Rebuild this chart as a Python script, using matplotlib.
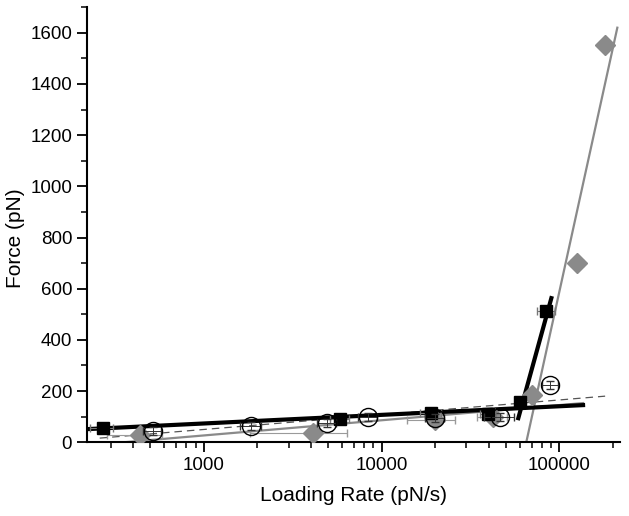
import numpy as np
import matplotlib
matplotlib.use("Agg")
import matplotlib.pyplot as plt
from matplotlib.ticker import FixedLocator, LogLocator, MultipleLocator, FuncFormatter, NullFormatter

plt.rcParams['font.family'] = ['Liberation Sans', 'DejaVu Sans']

# data
sq_x = [270, 5840, 19000, 39800, 60300, 84500]
sq_y = [57, 90, 113, 110, 156, 512]
sq_xerr = [40, 700, 2500, 4000, 4000, 10000]

circ_x = [516, 1840, 4930, 8400, 20000, 46500, 89000]
circ_y = [43, 63, 74, 98, 94, 98, 223]
circ_xerr = [60, 250, 600, 1000, 2500, 9000, 9000]
circ_yerr = [15, 15, 15, 15, 15, 15, 15]

dia_x = [436, 4110, 20000, 42500, 70400, 126000, 181000]
dia_y = [27, 35, 86, 98, 184, 700, 1553]
dia_xerr = [150, 2300, 6000, 8000, 5000, 10000, 8000]

# fit lines (end points)
black_fit1_x = [219, 136000]
black_fit1_y = [51, 145]
black_fit2_x = [58800, 90200]
black_fit2_y = [94, 563]
gray_fit1_x = [359, 136000]
gray_fit1_y = [0, 153]
gray_fit2_x = [65200, 212000]
gray_fit2_y = [0, 1620]
dash_fit_x = [260, 181000]
dash_fit_y = [16, 180]

fig = plt.figure(figsize=(6.29, 5.16), dpi=100)
ax = fig.add_axes([0.138, 0.143, 0.848, 0.843])

gray = '#8a8a8a'

# fits
ax.plot(gray_fit1_x, gray_fit1_y, color=gray, lw=1.6, zorder=2)
ax.plot(gray_fit2_x, gray_fit2_y, color=gray, lw=1.6, zorder=2)
ax.plot(dash_fit_x, dash_fit_y, color='#555555', lw=0.9, ls=(0, (6, 4)), zorder=2)
ax.plot(black_fit1_x, black_fit1_y, color='black', lw=3.0, zorder=3)
ax.plot(black_fit2_x, black_fit2_y, color='black', lw=3.0, zorder=3)

# points
ax.errorbar(dia_x, dia_y, xerr=dia_xerr, fmt='D', color=gray, ms=10,
            ecolor='#9a9a9a', elinewidth=0.8, capsize=3, zorder=4)
ax.errorbar(sq_x, sq_y, xerr=sq_xerr, fmt='s', color='black', ms=9,
            ecolor='#777777', elinewidth=0.8, capsize=3, zorder=5)
ax.errorbar(circ_x, circ_y, xerr=circ_xerr, yerr=circ_yerr, fmt='o', mfc='none',
            mec='black', mew=1.0, ms=13, ecolor='#333333', elinewidth=0.7,
            capsize=3, zorder=6)

ax.set_xscale('log')
ax.set_xlim(220, 220000)
ax.set_ylim(0, 1700)

ax.xaxis.set_major_locator(FixedLocator([1000, 10000, 100000]))
ax.xaxis.set_major_formatter(FuncFormatter(lambda v, p: '%d' % v))
ax.xaxis.set_minor_locator(LogLocator(base=10, subs=np.arange(2, 10), numticks=20))
ax.xaxis.set_minor_formatter(NullFormatter())
ax.yaxis.set_major_locator(MultipleLocator(200))
ax.yaxis.set_minor_locator(MultipleLocator(100))

for s in ['top', 'right']:
    ax.spines[s].set_visible(False)
for s in ['left', 'bottom']:
    ax.spines[s].set_linewidth(1.5)

ax.tick_params(which='major', direction='out', length=7, width=1.3, labelsize=13.5)
ax.tick_params(which='minor', direction='out', length=4, width=1.1)

ax.set_xlabel('Loading Rate (pN/s)', fontsize=15, labelpad=9)
ax.set_ylabel('Force (pN)', fontsize=15)
ax.yaxis.set_label_coords(-0.115, 0.47)

fig.savefig('out.png', dpi=100)
